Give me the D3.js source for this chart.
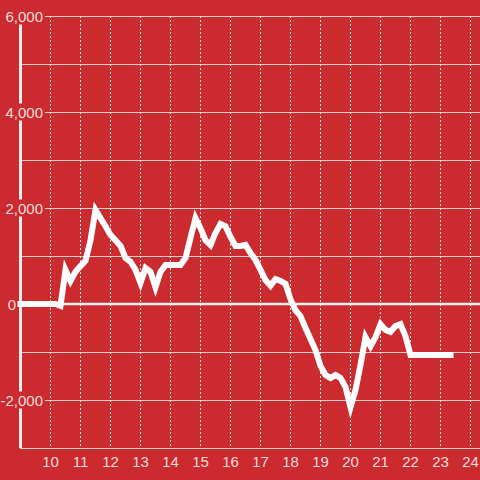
<!DOCTYPE html>
<html>
<head>
<meta charset="utf-8">
<script src="https://cdn.jsdelivr.net/npm/d3@7"></script>
<style>
  html, body { margin: 0; padding: 0; background: #cb2a2f; }
  svg { display: block; }
</style>
</head>
<body>
<svg id="chart" width="480" height="480"></svg>
<script>
// ---- data ----
const times = [
  "9:00","9:10","9:20","9:30","9:40","9:50",
  "10:00","10:10","10:20","10:30","10:40","10:50",
  "11:00","11:10","11:20","11:30","11:40","11:50",
  "12:00","12:10","12:20","12:30","12:40","12:50",
  "13:00","13:10","13:20","13:30","13:40","13:50",
  "14:00","14:10","14:20","14:30","14:40","14:50",
  "15:00","15:10","15:20","15:30","15:40","15:50",
  "16:00","16:10","16:20","16:30","16:40","16:50",
  "17:00","17:10","17:20","17:30","17:40","17:50",
  "18:00","18:10","18:20","18:30","18:40","18:50",
  "19:00","19:10","19:20","19:30","19:40","19:50",
  "20:00","20:10","20:20","20:30","20:40","20:50",
  "21:00","21:10","21:20","21:30","21:40","21:50",
  "22:00","22:10","22:20","22:30","22:40","22:50",
  "23:00","23:10","23:20"
];
const values = [
  0, 0, 0, 0, 0, 0,
  0, 0, -40, 710, 480, 670,
  790, 900, 1330, 1960, 1790, 1620,
  1440, 1330, 1210, 960, 880, 710,
  440, 750, 670, 350, 670, 810,
  810, 810, 810, 960, 1380, 1790,
  1580, 1330, 1230, 1480, 1670, 1620,
  1400, 1210, 1210, 1230, 1060, 920,
  710, 500, 380, 520, 480, 420,
  100, -130, -250, -500, -730, -960,
  -1290, -1480, -1540, -1480, -1540, -1730,
  -2150, -1790, -1270, -690, -880, -690,
  -420, -540, -580, -460, -420, -670,
  -1060, -1060, -1060, -1060, -1060, -1060,
  -1060, -1060, -1060
];
const xTicks = [10, 11, 12, 13, 14, 15, 16, 17, 18, 19, 20, 21, 22, 23, 24];
const yGrid = [6000, 5000, 4000, 3000, 2000, 1000, 0, -1000, -2000, -3000];
const yTickValues = [6000, 4000, 2000, 0, -2000];
const yTickLabels = ["6,000", "4,000", "2,000", "0", "-2,000"];

// ---- setup ----
const W = 480, H = 480;
const svg = d3.select("#chart");
const x = d3.scaleLinear().domain([9, 24]).range([20.5, 470.5]);
const y = d3.scaleLinear().domain([-3000, 6000]).range([448, 16]);
const toHour = s => { const [h, m] = s.split(":").map(Number); return h + m / 60; };
const data = times.map((t, i) => ({ t: toHour(t), v: values[i] }));

const bg = "#cb2a2f";
svg.append("rect").attr("width", W).attr("height", H).attr("fill", bg);

// horizontal gridlines
svg.append("g").selectAll("line").data(yGrid.filter(d => d !== 0 && d !== -3000)).join("line")
  .attr("x1", 20).attr("x2", W)
  .attr("y1", d => Math.round(y(d)) + 0.5).attr("y2", d => Math.round(y(d)) + 0.5)
  .attr("stroke", "#cfcfcf").attr("stroke-width", 1);

// vertical dotted gridlines
svg.append("g").selectAll("line").data(xTicks).join("line")
  .attr("x1", d => x(d)).attr("x2", d => x(d))
  .attr("y1", 16).attr("y2", 448)
  .attr("stroke", "#ececec").attr("stroke-width", 1)
  .attr("stroke-dasharray", "2,2");

// x axis line (bottom)
svg.append("line")
  .attr("x1", 20).attr("x2", W).attr("y1", y(-3000) + 0.5).attr("y2", y(-3000) + 0.5)
  .attr("stroke", "#cfcfcf").attr("stroke-width", 1);

// zero line
svg.append("line")
  .attr("x1", 20).attr("x2", W).attr("y1", y(0)).attr("y2", y(0))
  .attr("stroke", "#f4f0f0").attr("stroke-width", 2.5);

// y axis line
svg.append("line")
  .attr("x1", 20.5).attr("x2", 20.5).attr("y1", 16).attr("y2", 448)
  .attr("stroke", "#f2eeee").attr("stroke-width", 3);

// x tick labels
svg.append("g").selectAll("text").data(xTicks).join("text")
  .attr("x", d => x(d)).attr("y", 466.5)
  .attr("text-anchor", "middle")
  .attr("font-family", "'Liberation Sans', Arial, sans-serif")
  .attr("font-size", 15)
  .attr("fill", "#f4dcdc")
  .text(d => d);

// y tick labels with background boxes
const yl = svg.append("g");
yTickValues.forEach((v, i) => {
  const g = yl.append("g");
  const rx = v === 0 ? 16 : 43;
  const t = g.append("text")
    .attr("x", rx).attr("y", y(v) + 5.5)
    .attr("text-anchor", "end")
    .attr("font-family", "'Liberation Sans', Arial, sans-serif")
    .attr("font-size", 15)
    .attr("fill", "#f4dcdc")
    .text(yTickLabels[i]);
  const bb = t.node().getBBox();
  g.insert("rect", "text")
    .attr("x", bb.x - 2).attr("y", bb.y)
    .attr("width", bb.width + 4).attr("height", bb.height)
    .attr("fill", bg);
});

// data line
const line = d3.line().x(d => x(d.t)).y(d => y(d.v));
svg.append("path").datum(data)
  .attr("d", line)
  .attr("fill", "none")
  .attr("stroke", "#ffffff")
  .attr("stroke-width", 6)
  .attr("stroke-linecap", "square")
  .attr("stroke-linejoin", "miter");
</script>
</body>
</html>
